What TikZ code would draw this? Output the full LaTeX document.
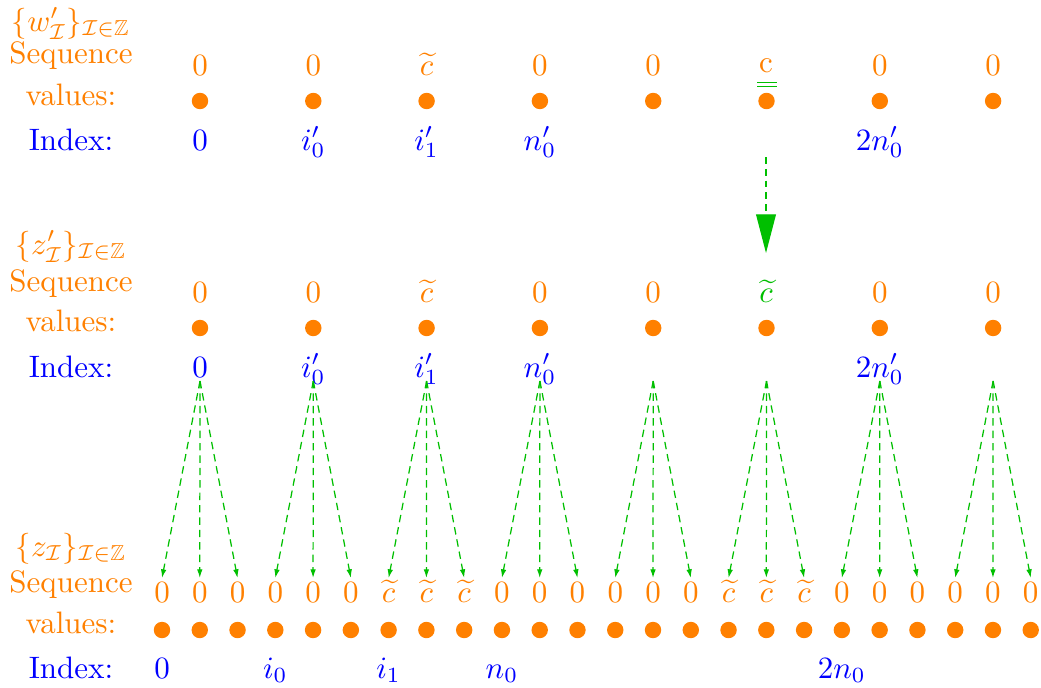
\documentclass[tikz,border=0pt]{standalone}
\usepackage{amssymb}
\usetikzlibrary{arrows.meta}
\definecolor{seqorange}{rgb}{1,0.5,0}
\definecolor{arrgreen}{rgb}{0,0.75,0}
\newcommand{\ctil}{$\widetilde{c}$}

\begin{document}
\begin{tikzpicture}[x=0.3226pt, y=-0.3226pt,
  lbl/.style={anchor=base, inner sep=0pt, text=seqorange},
  idxlbl/.style={anchor=base, inner sep=0pt, text=blue},
  val/.style={anchor=base, inner sep=0pt, text=seqorange},
  idx/.style={anchor=base, inner sep=0pt, text=blue},
  dot/.style={circle, fill=seqorange, inner sep=0pt, minimum size=5.3pt},
  dasharr/.style={-{Latex[length=2.8pt,width=1.8pt]}, arrgreen, dash pattern=on 2.4pt off 1.6pt, line width=0.4pt},
  bigarr/.style={-{Triangle[length=12.5pt,width=6.4pt]}, arrgreen, dash pattern=on 2.2pt off 1.6pt, line width=0.4pt}
]
\useasboundingbox (0,0) rectangle (1041,687);

% row labels
\node[lbl] (wlab) at (71,31) {$\{w'_{\mathcal I}\}_{\mathcal I\in\mathbb Z}$};
\node[lbl] (seqw) at (71,63) {Sequence};
\node[lbl] (valw) at (71,105) {values:};
\node[idxlbl] (idxw) at (71,150) {Index:};

\node[lbl] (zplab) at (71,254) {$\{z'_{\mathcal I}\}_{\mathcal I\in\mathbb Z}$};
\node[lbl] (seqzp) at (71,291) {Sequence};
\node[lbl] (valzp) at (71,331) {values:};
\node[idxlbl] (idxzp) at (71,377) {Index:};

\node[lbl] (zlab) at (71,556) {$\{z_{\mathcal I}\}_{\mathcal I\in\mathbb Z}$};
\node[lbl] (seqz) at (71,592) {Sequence};
\node[lbl] (valz) at (71,633) {values:};
\node[idxlbl] (idxz) at (71,678) {Index:};

% sequence w'
\foreach \v [count=\j from 0] in {0,0,\ctil,0,0,{},0,0} {
  \node[val] (tv\j) at (200+113.3*\j,75) {\v};
  \node[dot] (td\j) at (200+113.3*\j,101) {};
}
\node[val] (tc) at (766,72) {c};
\draw[arrgreen, line width=0.5pt] (757,82.3) -- (777,82.3) (757,86.7) -- (777,86.7);
\node[idx] (ti0) at (200,150) {0};
\node[idx] (ti1) at (313.3,150) {$i'_0$};
\node[idx] (ti2) at (426.6,150) {$i'_1$};
\node[idx] (ti3) at (539.9,150) {$n'_0$};
\node[idx] (ti6) at (879.8,150) {$2n'_0$};

% sequence z'
\foreach \v [count=\j from 0] in {0,0,\ctil,0,0,{},0,0} {
  \node[val] (mv\j) at (200+113.3*\j,302) {\v};
  \node[dot] (md\j) at (200+113.3*\j,328) {};
  \coordinate (ma\j) at (200+113.3*\j,381);
}
\node[val, text=arrgreen] (mc) at (766,302) {\ctil};
\node[idx] (mi0) at (200,377) {0};
\node[idx] (mi1) at (313.3,377) {$i'_0$};
\node[idx] (mi2) at (426.6,377) {$i'_1$};
\node[idx] (mi3) at (539.9,377) {$n'_0$};
\node[idx] (mi6) at (879.8,377) {$2n'_0$};

% sequence z
\foreach \v [count=\k from 0] in {0,0,0,0,0,0,\ctil,\ctil,\ctil,0,0,0,0,0,0,\ctil,\ctil,\ctil,0,0,0,0,0,0} {
  \node[val] (bv\k) at (162+37.77*\k,602) {\v};
  \node[dot] (bd\k) at (162+37.77*\k,630) {};
  \coordinate (bt\k) at (162+37.77*\k,578);
}
\node[idx] (bi0) at (162,678) {0};
\node[idx] (bi1) at (275.3,678) {$i_0$};
\node[idx] (bi2) at (388.6,678) {$i_1$};
\node[idx] (bi3) at (501.9,678) {$n_0$};
\node[idx] (bi6) at (841.8,678) {$2n_0$};

% arrows
\coordinate (bigtop) at (766,157);
\coordinate (bigbot) at (766,253);
\draw[bigarr] (bigtop) -- (bigbot);
\foreach \j in {0,...,7}
  \foreach \s in {0,1,2} {
    \pgfmathtruncatemacro\k{3*\j+\s}
    \draw[dasharr] (ma\j) -- (bt\k);
  }

\end{tikzpicture}
\end{document}
